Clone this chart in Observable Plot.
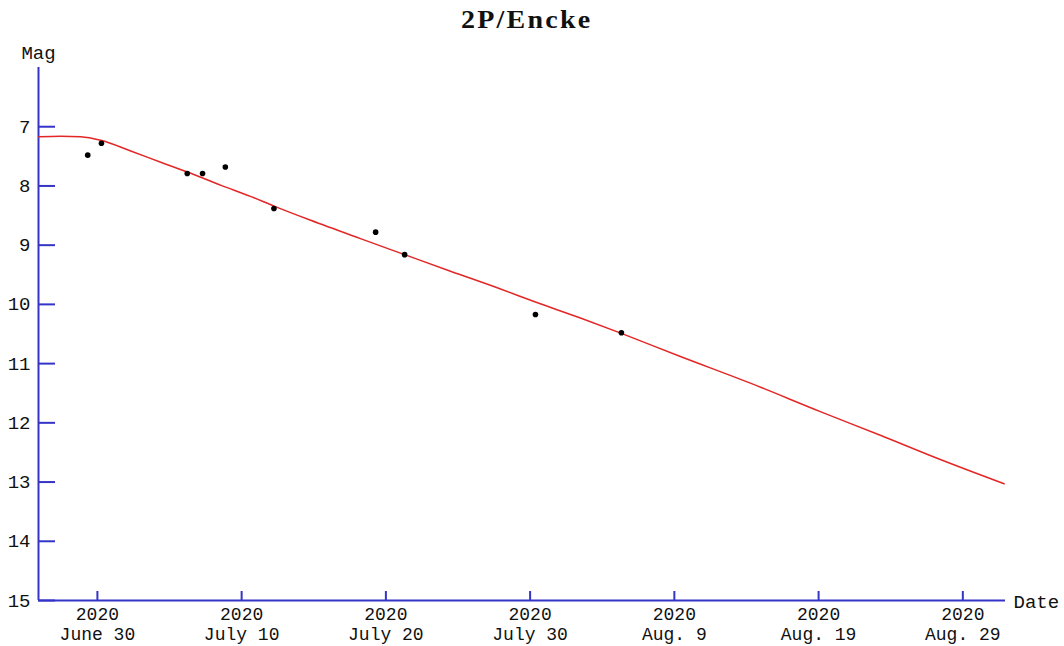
<!DOCTYPE html>
<html>
<head>
<meta charset="utf-8">
<script src="https://cdn.jsdelivr.net/npm/d3@7"></script>
<script src="https://cdn.jsdelivr.net/npm/@observablehq/plot@0.6"></script>
<style>
  html, body { margin: 0; padding: 0; background: #fff; overflow: hidden; }
  #title { height: 40px; width: 1064px; text-align: center; padding-right: 10px; box-sizing: border-box; }
  #title span { display: inline-block; font-family: "Liberation Serif", serif; font-weight: bold; font-size: 25px; letter-spacing: 2px; transform: scaleX(1.12); line-height: 40px; color: #111; }
  #chart svg { overflow: visible; }
</style>
</head>
<body>
<div id="title"><span>2P/Encke</span></div>
<div id="chart"></div>
<script>
// ---- data (days counted from 2020 June 30, 0h UT) ----
const baseDate = Date.UTC(2020, 5, 30);
const obsDay = [-0.67, 0.28, 6.23, 7.29, 8.87, 12.24, 19.29, 21.3, 30.37, 36.33];
const obsMag = [7.48, 7.28, 7.79, 7.79, 7.68, 8.38, 8.78, 9.16, 10.17, 10.48];
const curveDay = [-4.07, -2.54, -1.16, 0.23, 2.31, 4.39, 6.19, 8.58, 10.66, 12.25, 14.79, 18.24, 21.3, 24.48, 27.95, 30.37, 33.49, 36.33, 40.42, 45.27, 50.12, 54.28, 58.44, 62.87];
const curveMag = [7.17, 7.16, 7.17, 7.23, 7.41, 7.60, 7.76, 7.99, 8.18, 8.34, 8.58, 8.89, 9.16, 9.44, 9.74, 9.96, 10.23, 10.49, 10.88, 11.33, 11.81, 12.21, 12.62, 13.03];
const xTickDates = ["2020-06-30", "2020-07-10", "2020-07-20", "2020-07-30", "2020-08-09", "2020-08-19", "2020-08-29"];
const xTickYears = ["2020", "2020", "2020", "2020", "2020", "2020", "2020"];
const xTickLabels = ["June 30", "July 10", "July 20", "July 30", "Aug. 9", "Aug. 19", "Aug. 29"];
const yTicks = [7, 8, 9, 10, 11, 12, 13, 14, 15];
const xDomain = ["2020-06-25T22:00Z", "2020-08-31T23:00Z"];
const yDomain = [6, 15];

// ---- build tables ----
const toDate = d => new Date(baseDate + d * 864e5);
const obs = obsDay.map((d, i) => ({date: toDate(d), mag: obsMag[i]}));
const curve = curveDay.map((d, i) => ({date: toDate(d), mag: curveMag[i]}));
const xt = xTickDates.map(s => new Date(s + "T00:00Z"));
const idx = d => xt.findIndex(t => +t === +d);
const xd = xDomain.map(s => new Date(s));

const blue = "#3434c8";
const red = "#e32626";
const mono = "Liberation Mono, monospace";

const chart = Plot.plot({
  width: 1064,
  height: 606,
  marginLeft: 38,
  marginRight: 59,
  marginTop: 27,
  marginBottom: 46,
  style: {fontFamily: mono, fontSize: "19px", background: "#fff", color: "#111"},
  x: {type: "utc", domain: xd},
  y: {domain: yDomain, reverse: true},
  marks: [
    // y ticks (inward) and labels
    Plot.axisY({ticks: yTicks, tickSize: -17, stroke: blue, strokeWidth: 2, fill: "none", label: null}),
    Plot.axisY({ticks: yTicks, tickSize: 0, tickPadding: 8, tickFormat: d => String(d), fontSize: 19, fill: "#111", label: null}),
    // x ticks (inward) and two label rows
    Plot.axisX({ticks: xt, tickSize: -9, stroke: blue, strokeWidth: 2, fill: "none", label: null}),
    Plot.axisX({ticks: xt, tickSize: 0, tickPadding: 7, tickFormat: d => xTickYears[idx(d)], fontSize: 18, fill: "#111", label: null}),
    Plot.axisX({ticks: xt, tickSize: 0, tickPadding: 27, tickFormat: d => xTickLabels[idx(d)], fontSize: 18, fill: "#111", label: null}),
    // axis lines
    Plot.ruleX([xd[0]], {stroke: blue, strokeWidth: 2}),
    Plot.ruleY([yDomain[1]], {stroke: blue, strokeWidth: 2}),
    // fitted curve and observations
    Plot.line(curve, {x: "date", y: "mag", stroke: red, strokeWidth: 1.5, curve: "monotone-x"}),
    Plot.dot(obs, {x: "date", y: "mag", r: 2.8, fill: "#000", stroke: "none"}),
    // axis titles
    Plot.text(["Mag"], {frameAnchor: "top-left", dy: -15, lineAnchor: "middle", textAnchor: "middle", fontSize: 19, fill: "#111"}),
    Plot.text(["Date"], {frameAnchor: "bottom-right", dx: 8, dy: 1, lineAnchor: "middle", textAnchor: "start", fontSize: 19, fill: "#111"})
  ]
});
document.getElementById("chart").appendChild(chart);
</script>
</body>
</html>
